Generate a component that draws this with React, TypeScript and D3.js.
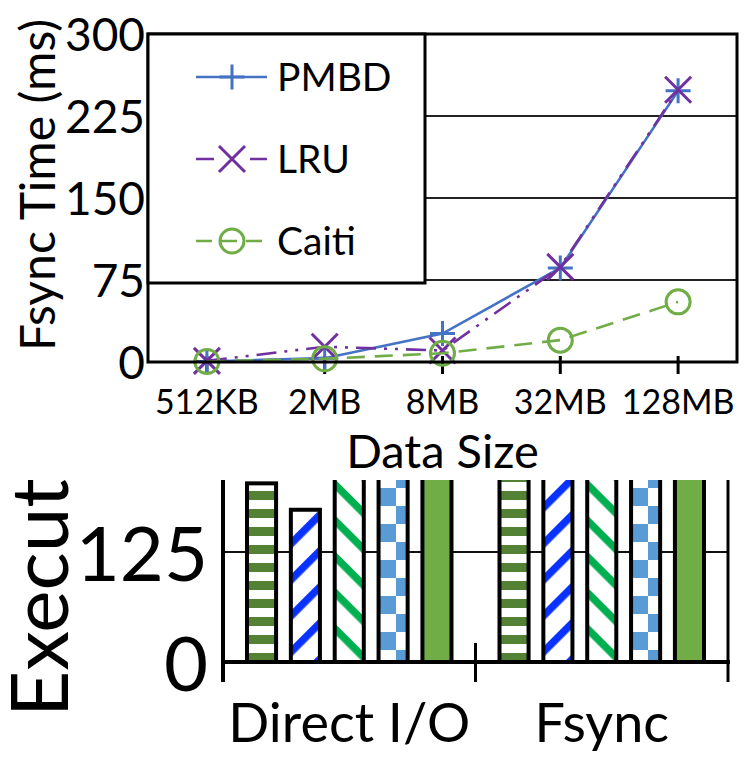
import React from 'react';
import * as d3 from 'd3';

// ---------- data ----------
const sizes = ['512KB', '2MB', '8MB', '32MB', '128MB'];
const pmbd = [0.5, 3.5, 26, 86, 248];
const lru = [1, 14, 10.5, 87, 249];
const caiti = [0.5, 3, 8, 20, 55];
const fsyncTicks = [0, 75, 150, 225, 300];

const groups = ['Direct I/O', 'Fsync'];
const barSeries = ['s1', 's2', 's3', 's4', 's5'];
const directIO = [203, 173, 235, 240, 245];
const fsyncBars = [230, 235, 240, 245, 250];
const execTicks = [0, 125];

const FONT = "Lato, 'Noto Sans', sans-serif";

const lineSeries = [
  { name: 'PMBD', values: pmbd, color: '#4472C4', dash: 'none', marker: 'plus' },
  { name: 'LRU', values: lru, color: '#7030A0', dash: '20,8,3,8,3,8', marker: 'x' },
  { name: 'Caiti', values: caiti, color: '#70AD47', dash: '18,10', marker: 'circle' },
];

const barFills = ['url(#hstripe)', 'url(#bluediag)', 'url(#greendiag)', 'url(#checker)', '#70AD47'];

function Marker({ type, x, y, color }: { type: string; x: number; y: number; color: string }) {
  if (type === 'plus')
    return <path d={`M${x - 12.5},${y}H${x + 12.5}M${x},${y - 12.5}V${y + 12.5}`} stroke={color} strokeWidth={3} fill="none" />;
  if (type === 'x')
    return <path d={`M${x - 13},${y - 13}L${x + 13},${y + 13}M${x - 13},${y + 13}L${x + 13},${y - 13}`} stroke={color} strokeWidth={3} fill="none" />;
  return <circle cx={x} cy={y} r={12} stroke={color} strokeWidth={3} fill="none" />;
}

export default function App() {
  // top chart scales
  const x = d3.scalePoint<string>().domain(sizes).range([148, 737]).padding(0.5);
  const y = d3.scaleLinear().domain([0, 300]).range([362, 34]);
  const line = d3
    .line<number>()
    .x((_, i) => x(sizes[i]) as number)
    .y((d) => y(d));

  // bottom chart scales
  const x0 = d3.scaleBand<string>().domain(groups).range([223, 728]);
  const x1 = d3
    .scaleBand<string>()
    .domain(barSeries)
    .range([24, x0.bandwidth() - 24])
    .paddingInner(0.337);
  const yb = d3.scaleLinear().domain([0, 250]).range([662, 442]);
  const barData = [directIO, fsyncBars];

  const legendRows = [77, 159, 241];

  return (
    <svg width={745} height={770} style={{ position: 'absolute', left: 0, top: 0, background: '#fff' }} fontFamily={FONT}>
      <defs>
        <pattern id="hstripe" patternUnits="userSpaceOnUse" width={18} height={18}>
          <rect width={18} height={18} fill="#fff" />
          <rect y={5} width={18} height={9} fill="#548235" />
        </pattern>
        <pattern id="bluediag" patternUnits="userSpaceOnUse" width={25.5} height={25.5} patternTransform="rotate(-45)">
          <rect width={25.5} height={25.5} fill="#fff" />
          <rect width={25.5} height={7.5} fill="#0A32FF" />
        </pattern>
        <pattern id="greendiag" patternUnits="userSpaceOnUse" width={25.5} height={25.5} patternTransform="rotate(45)">
          <rect width={25.5} height={25.5} fill="#fff" />
          <rect width={25.5} height={7.5} fill="#00B050" />
        </pattern>
        <pattern id="checker" patternUnits="userSpaceOnUse" width={36} height={36} x={0} y={2}>
          <rect width={36} height={36} fill="#fff" />
          <rect width={18} height={18} fill="#5B9BD5" />
          <rect x={18} y={18} width={18} height={18} fill="#5B9BD5" />
        </pattern>
        <clipPath id="bottomClip">
          <rect x={0} y={480} width={745} height={290} />
        </clipPath>
      </defs>

      {/* ---------- bottom chart ---------- */}
      <g clipPath="url(#bottomClip)">
        <text
          transform="translate(68,717) rotate(-90)"
          fontSize={80}
          fill="#000"
          textAnchor="start"
        >
          Execution Time (ms)
        </text>
        {execTicks.map((t) => (
          <text key={t} x={208} y={yb(t)} dy="0.38em" fontSize={76} textAnchor="end" fill="#000">
            {t}
          </text>
        ))}
        {execTicks.filter((t) => t > 0).map((t) => (
          <line key={t} x1={223} x2={728} y1={yb(t)} y2={yb(t)} stroke="#111" strokeWidth={2} />
        ))}
        {groups.map((g, gi) =>
          barSeries.map((s, si) => {
            const v = barData[gi][si];
            const bx = (x0(g) as number) + (x1(s) as number);
            return (
              <rect
                key={g + s}
                x={bx}
                y={yb(v)}
                width={x1.bandwidth()}
                height={yb(0) - yb(v)}
                fill={barFills[si]}
                stroke="#000"
                strokeWidth={4}
              />
            );
          })
        )}
        <line x1={221} x2={730} y1={yb(0)} y2={yb(0)} stroke="#000" strokeWidth={4} />
        <line x1={223} x2={223} y1={440} y2={682} stroke="#000" strokeWidth={4} />
        <line x1={728} x2={728} y1={440} y2={682} stroke="#000" strokeWidth={3} />
        <line x1={x0('Fsync') as number} x2={x0('Fsync') as number} y1={643} y2={682} stroke="#000" strokeWidth={3} />
        {groups.map((g) => (
          <text
            key={g}
            x={(x0(g) as number) + x0.bandwidth() / 2}
            y={742}
            fontSize={54}
            textAnchor="middle"
            fill="#000"
          >
            {g}
          </text>
        ))}
      </g>

      {/* ---------- top chart ---------- */}
      <text transform="translate(55,185) rotate(-90)" fontSize={48} textAnchor="middle" fill="#000">
        Fsync Time (ms)
      </text>
      {fsyncTicks.map((t) => (
        <text key={t} x={145} y={y(t)} dy="0.36em" fontSize={46} textAnchor="end" fill="#000">
          {t}
        </text>
      ))}
      {fsyncTicks.filter((t) => t > 0 && t < 300).map((t) => (
        <line key={t} x1={148} x2={737} y1={y(t)} y2={y(t)} stroke="#222" strokeWidth={1.8} />
      ))}
      {sizes.map((s) => (
        <line key={s} x1={x(s)} x2={x(s)} y1={356} y2={374} stroke="#000" strokeWidth={3} />
      ))}
      {lineSeries.map((ser) => (
        <g key={ser.name}>
          <path d={line(ser.values) as string} fill="none" stroke={ser.color} strokeWidth={2.6} strokeDasharray={ser.dash} />
          {ser.values.map((v, i) => (
            <Marker key={i} type={ser.marker} x={x(sizes[i]) as number} y={y(v)} color={ser.color} />
          ))}
        </g>
      ))}
      <rect x={148} y={34} width={589} height={328} fill="none" stroke="#000" strokeWidth={3} />

      {/* legend */}
      <rect x={148} y={34} width={277} height={249} fill="#fff" stroke="#000" strokeWidth={3} />
      {lineSeries.map((ser, i) => (
        <g key={ser.name}>
          <line x1={196} x2={267} y1={legendRows[i]} y2={legendRows[i]} stroke={ser.color} strokeWidth={2.6} strokeDasharray={ser.dash === 'none' ? 'none' : i === 1 ? '18,36,18' : '16,9'} />
          <Marker type={ser.marker} x={232} y={legendRows[i]} color={ser.color} />
          <text x={277} y={legendRows[i]} dy="0.36em" fontSize={39} fill="#000">
            {ser.name}
          </text>
        </g>
      ))}

      {sizes.map((s) => (
        <text key={s} x={x(s)} y={414} fontSize={34} textAnchor="middle" fill="#000">
          {s}
        </text>
      ))}
      <text x={442.5} y={468} fontSize={47} textAnchor="middle" fill="#000">
        Data Size
      </text>
    </svg>
  );
}
